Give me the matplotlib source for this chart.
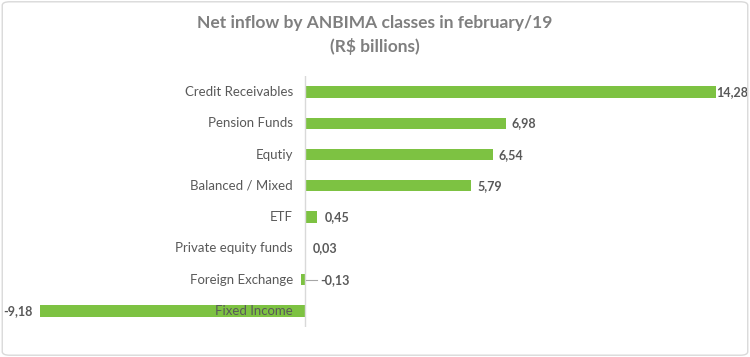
import matplotlib.pyplot as plt
import matplotlib.patches as mpatches

categorias = ['Credit Receivables', 'Pension Funds', 'Equtiy', 'Balanced / Mixed',
              'ETF', 'Private equity funds', 'Foreign Exchange', 'Fixed Income']
valores = [14.28, 6.98, 6.54, 5.79, 0.45, 0.03, -0.13, -9.18]
etiquetas = ['14,28', '6,98', '6,54', '5,79', '0,45', '0,03', '-0,13', '-9,18']

verde = '#7DC242'
gris_texto = '#595959'

plt.rcParams['font.family'] = ['Lato', 'DejaVu Sans']

fig = plt.figure(figsize=(7.5, 3.57), dpi=100)
ax = fig.add_axes([0.0533, 0.0852, 0.9014, 0.7008])

pos = list(range(len(categorias)))
ax.barh(pos, valores, height=0.36, color=verde)
ax.set_xlim(-9.18, 14.28)
ax.set_ylim(len(categorias) - 0.5, -0.5)

ax.axvline(0, color='#D9D9D9', lw=1)
for s in ax.spines.values():
    s.set_visible(False)
ax.set_xticks([])
ax.set_yticks([])

# nombres de categoria a la izquierda del eje
for i, nombre in enumerate(categorias):
    ax.text(-0.4, i, nombre, ha='right', va='center', fontsize=9.5, color=gris_texto)

# etiquetas de valores
for i, (v, et) in enumerate(zip(valores, etiquetas)):
    if v >= 5:
        ax.text(v + 0.2 if v < 14 else v, i, et, ha='left', va='center',
                fontsize=9, fontweight='bold', color=gris_texto)
    elif v >= 0:
        ax.text(v + 0.25, i, et, ha='left', va='center',
                fontsize=9, fontweight='bold', color=gris_texto)
    elif v > -1:
        ax.plot([0.05, 0.45], [i, i], color='#A6A6A6', lw=0.8)
        ax.text(0.55, i, et, ha='left', va='center',
                fontsize=9, fontweight='bold', color=gris_texto)
    else:
        ax.text(v - 0.25, i, et, ha='right', va='center',
                fontsize=9, fontweight='bold', color=gris_texto)

fig.text(0.5, 0.936, 'Net inflow by ANBIMA classes in february/19',
         ha='center', va='center', fontsize=12.5, fontweight='bold', color='#7F7F7F')
fig.text(0.5, 0.869, '(R$ billions)',
         ha='center', va='center', fontsize=12.5, fontweight='bold', color='#7F7F7F')

borde = mpatches.FancyBboxPatch((0.003, 0.005), 0.994, 0.99,
                                boxstyle='round,pad=0,rounding_size=0.01',
                                transform=fig.transFigure, fill=False,
                                edgecolor='#D9D9D9', lw=1)
fig.patches.append(borde)

fig.savefig('out.png', dpi=100)
